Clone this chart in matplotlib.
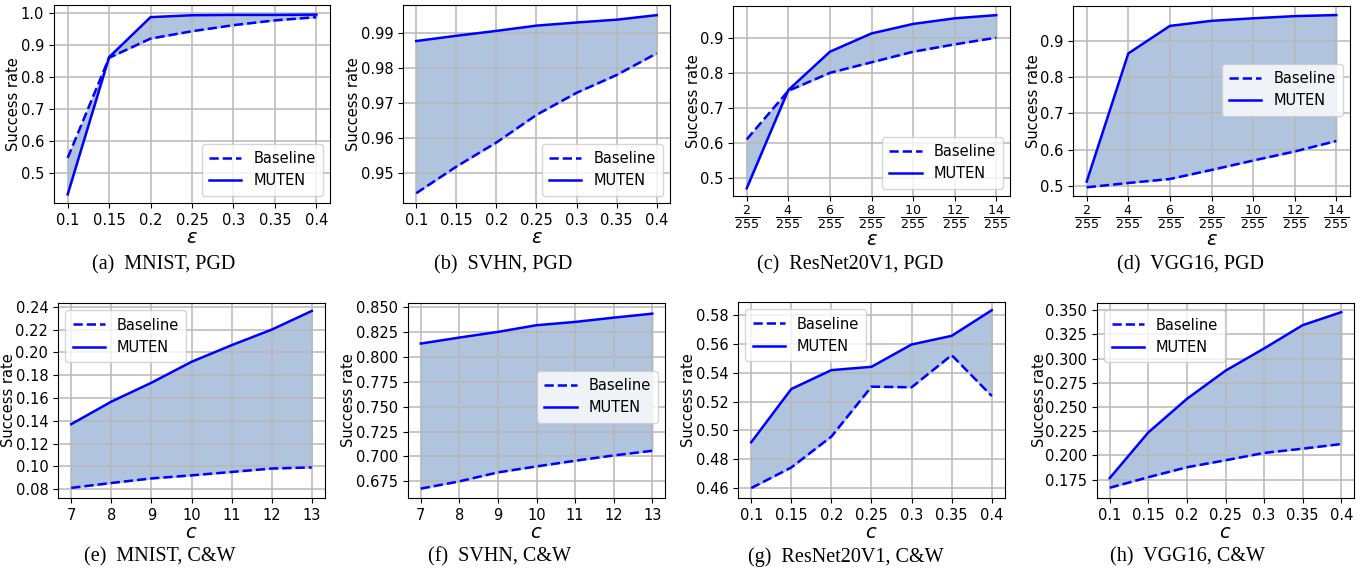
import matplotlib
matplotlib.use('Agg')
import matplotlib.pyplot as plt

plt.rcParams['font.family'] = 'DejaVu Sans'
plt.rcParams['mathtext.fontset'] = 'dejavusans'

# x values
eps_mnist = [0.1, 0.15, 0.2, 0.25, 0.3, 0.35, 0.4]
eps_cifar = [2, 4, 6, 8, 10, 12, 14]
c_mnist = [7, 8, 9, 10, 11, 12, 13]
c_cifar = [0.1, 0.15, 0.2, 0.25, 0.3, 0.35, 0.4]

eps_ticklabels = [r'$\frac{%d}{255}$' % v for v in eps_cifar]
dec_ticklabels = ['0.1', '0.15', '0.2', '0.25', '0.3', '0.35', '0.4']

# (a) MNIST, PGD
mnist_pgd_base = [0.547, 0.860, 0.920, 0.943, 0.962, 0.977, 0.987]
mnist_pgd_muten = [0.433, 0.862, 0.987, 0.993, 0.994, 0.994, 0.995]
# (b) SVHN, PGD
svhn_pgd_base = [0.9442, 0.9518, 0.9587, 0.9666, 0.9729, 0.9780, 0.9842]
svhn_pgd_muten = [0.9877, 0.9892, 0.9906, 0.9921, 0.9930, 0.9938, 0.9951]
# (c) ResNet20V1, PGD
resnet_pgd_base = [0.611, 0.749, 0.800, 0.830, 0.860, 0.881, 0.900]
resnet_pgd_muten = [0.472, 0.751, 0.860, 0.912, 0.939, 0.955, 0.964]
# (d) VGG16, PGD
vgg_pgd_base = [0.496, 0.508, 0.519, 0.544, 0.570, 0.595, 0.624]
vgg_pgd_muten = [0.512, 0.866, 0.942, 0.956, 0.963, 0.969, 0.972]
# (e) MNIST, C&W
mnist_cw_base = [0.081, 0.0853, 0.0893, 0.092, 0.095, 0.098, 0.099]
mnist_cw_muten = [0.137, 0.1568, 0.1734, 0.1918, 0.2064, 0.2201, 0.2365]
# (f) SVHN, C&W
svhn_cw_base = [0.6677, 0.675, 0.684, 0.690, 0.6957, 0.701, 0.7057]
svhn_cw_muten = [0.8133, 0.8193, 0.825, 0.8317, 0.835, 0.8393, 0.8433]
# (g) ResNet20V1, C&W
resnet_cw_base = [0.460, 0.4743, 0.4958, 0.5304, 0.5300, 0.5523, 0.5239]
resnet_cw_muten = [0.4918, 0.5288, 0.5419, 0.5442, 0.5597, 0.5657, 0.5835]
# (h) VGG16, C&W
vgg_cw_base = [0.1665, 0.1774, 0.1877, 0.1949, 0.2025, 0.2069, 0.2117]
vgg_cw_muten = [0.1765, 0.2237, 0.2584, 0.2875, 0.3105, 0.3346, 0.3480]

W, H = 1372, 577
fig = plt.figure(figsize=(W / 100, H / 100), dpi=100)


def make_axes(left, right, top, bottom):
    return fig.add_axes([left / W, 1 - bottom / H, (right - left) / W, (bottom - top) / H])


def panel(box, x, base, muten, xlabel, caption, cap_x, cap_y, ylim, yticks, yfmt,
          legend_loc, ylab_off, xticklabels=None, legend_anchor=None, frac=False):
    ax = make_axes(*box)
    ax.fill_between(x, base, muten, color='lightsteelblue', zorder=1)
    ax.plot(x, base, color='blue', linestyle='--', linewidth=1.8, label='Baseline', zorder=3)
    ax.plot(x, muten, color='blue', linestyle='-', linewidth=1.8, label='MUTEN', zorder=3)
    ax.grid(color='#b8b8b8', linewidth=1.1)
    ax.set_xticks(x)
    if xticklabels is not None:
        ax.set_xticklabels(xticklabels)
    ax.set_yticks(yticks)
    ax.set_yticklabels([yfmt % v for v in yticks])
    ax.set_ylim(*ylim)
    pad = (x[-1] - x[0]) * 0.055
    ax.set_xlim(x[0] - pad, x[-1] + pad)
    ax.tick_params(labelsize=10.5)
    if frac:
        ax.tick_params(axis='x', labelsize=13, pad=2)
    ax.set_ylabel('Success rate', fontsize=10.5)
    # ylabel right edge placed ylab_off pixels left of the axes
    ax.yaxis.set_label_coords(-ylab_off / (box[1] - box[0]), 0.5)
    ax.set_xlabel(xlabel, fontsize=14, labelpad=-1 if frac else 0)
    leg_kw = dict(fontsize=10.5, handlelength=2.2, borderpad=0.5)
    if legend_anchor is not None:
        leg_kw['bbox_to_anchor'] = legend_anchor
    ax.legend(loc=legend_loc, **leg_kw)
    fig.text(cap_x / W, 1 - cap_y / H, caption, ha='center', va='center',
             fontsize=14.5, family='Liberation Serif')
    return ax


eps_label = r'$\varepsilon$'
c_label = r'$c$'

panel((54, 330, 5, 203), eps_mnist, mnist_pgd_base, mnist_pgd_muten, eps_label,
      '(a)  MNIST, PGD', 164, 265, (0.406, 1.025), [0.5, 0.6, 0.7, 0.8, 0.9, 1.0], '%.1f',
      'lower right', 33, dec_ticklabels)
panel((403, 670, 5, 203), eps_mnist, svhn_pgd_base, svhn_pgd_muten, eps_label,
      '(b)  SVHN, PGD', 503, 265, (0.9414, 0.998), [0.95, 0.96, 0.97, 0.98, 0.99], '%.2f',
      'lower right', 42, dec_ticklabels)
panel((733, 1010, 6, 196), eps_cifar, resnet_pgd_base, resnet_pgd_muten, eps_label,
      '(c)  ResNet20V1, PGD', 850, 265, (0.45, 0.99), [0.5, 0.6, 0.7, 0.8, 0.9], '%.1f',
      'lower right', 32, eps_ticklabels, frac=True)
panel((1073, 1350, 6, 196), eps_cifar, vgg_pgd_base, vgg_pgd_muten, eps_label,
      '(d)  VGG16, PGD', 1190, 265, (0.472, 0.997), [0.5, 0.6, 0.7, 0.8, 0.9], '%.1f',
      'center right', 32, eps_ticklabels, legend_anchor=(1.0, 0.56), frac=True)
panel((58, 325, 303, 498), c_mnist, mnist_cw_base, mnist_cw_muten, c_label,
      '(e)  MNIST, C&W', 160, 557, (0.0721, 0.2435),
      [0.08, 0.10, 0.12, 0.14, 0.16, 0.18, 0.20, 0.22, 0.24], '%.2f', 'upper left', 42)
panel((408, 665, 303, 498), c_mnist, svhn_cw_base, svhn_cw_muten, c_label,
      '(f)  SVHN, C&W', 499, 557, (0.6583, 0.854),
      [0.675, 0.700, 0.725, 0.750, 0.775, 0.800, 0.825, 0.850], '%.3f', 'center right', 52,
      legend_anchor=(1.0, 0.52))
panel((738, 1005, 302, 498), c_cifar, resnet_cw_base, resnet_cw_muten, c_label,
      '(g)  ResNet20V1, C&W', 846, 557, (0.4531, 0.5892),
      [0.46, 0.48, 0.50, 0.52, 0.54, 0.56, 0.58], '%.2f', 'upper left', 42, dec_ticklabels)
panel((1097, 1354, 303, 498), c_cifar, vgg_cw_base, vgg_cw_muten, c_label,
      '(h)  VGG16, C&W', 1188, 557, (0.1559, 0.3575),
      [0.175, 0.200, 0.225, 0.250, 0.275, 0.300, 0.325, 0.350], '%.3f', 'upper left', 50,
      dec_ticklabels)

fig.savefig('out.png', dpi=100)
